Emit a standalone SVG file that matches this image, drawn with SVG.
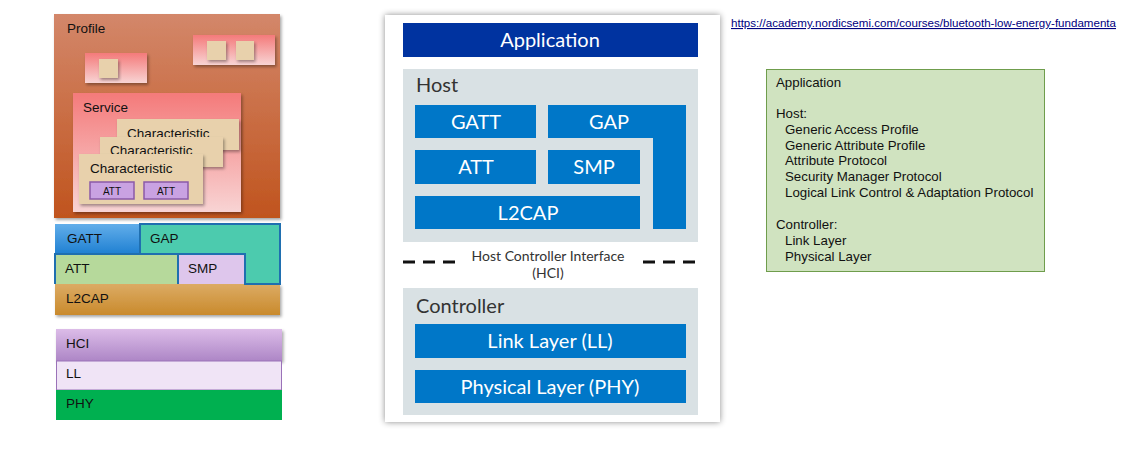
<svg xmlns="http://www.w3.org/2000/svg" width="1121" height="451" viewBox="0 0 1121 451">
<defs>
<linearGradient id="gProfile" x1="0" y1="0" x2="0" y2="1"><stop offset="0" stop-color="#d3876a"/><stop offset="1" stop-color="#c0541e"/></linearGradient>
<linearGradient id="gPink" x1="0" y1="0" x2="0" y2="1"><stop offset="0" stop-color="#f47a7a"/><stop offset="1" stop-color="#f8d4d4"/></linearGradient>
<linearGradient id="gGatt" x1="0" y1="0" x2="0" y2="1"><stop offset="0" stop-color="#62aeea"/><stop offset="1" stop-color="#1f80d2"/></linearGradient>
<linearGradient id="gL2" x1="0" y1="0" x2="0" y2="1"><stop offset="0" stop-color="#dcab64"/><stop offset="1" stop-color="#c98a2c"/></linearGradient>
<linearGradient id="gHci" x1="0" y1="0" x2="0" y2="1"><stop offset="0" stop-color="#dcbce8"/><stop offset="1" stop-color="#ad86c6"/></linearGradient>
<filter id="sh" x="-20%" y="-20%" width="140%" height="150%"><feDropShadow dx="1.5" dy="2" stdDeviation="1.5" flood-color="#000" flood-opacity="0.35"/></filter>
<filter id="card" x="-10%" y="-10%" width="120%" height="120%"><feDropShadow dx="0" dy="0" stdDeviation="3" flood-color="#000" flood-opacity="0.45"/></filter>
<style>
.l{font-family:"Liberation Sans",Arial,sans-serif;font-size:13.5px;fill:#111}
.ls{font-family:"Liberation Sans",Arial,sans-serif;font-size:10px;fill:#111}
.m{font-family:Lato,"Liberation Sans",sans-serif;font-size:20px;fill:#fff;text-anchor:middle}
.mh{font-family:Lato,"Liberation Sans",sans-serif;font-size:20px;fill:#333}
.hci{font-family:Lato,"Liberation Sans",sans-serif;font-size:14px;fill:#333;text-anchor:middle}
.blu{fill:#0077c8}
.grey{fill:#d9e1e4}
.tan{fill:#e8d1ac}
.r{font-family:"Liberation Sans",Arial,sans-serif;font-size:13.3px;fill:#111}
.dash{stroke:#111;stroke-width:3;stroke-dasharray:12 8}
</style>
</defs>
<rect width="1121" height="451" fill="#fff"/>

<g id="profile">
<rect x="54" y="14" width="226" height="204" fill="url(#gProfile)" filter="url(#sh)"/>
<text class="l" x="67" y="33">Profile</text>
<rect x="85" y="53" width="62" height="30" fill="url(#gPink)" filter="url(#sh)"/>
<rect x="99" y="59" width="19" height="19" class="tan" filter="url(#sh)"/>
<rect x="193" y="35" width="82" height="30" fill="url(#gPink)" filter="url(#sh)"/>
<rect x="207" y="41" width="19" height="19" class="tan" filter="url(#sh)"/>
<rect x="236" y="41" width="18" height="19" class="tan" filter="url(#sh)"/>
</g>
<g id="service">
<rect x="73" y="93" width="168" height="119" fill="url(#gPink)" filter="url(#sh)"/>
<text class="l" x="83" y="112">Service</text>
</g>
<g id="char3">
<rect x="117" y="119" width="122" height="31" class="tan" filter="url(#sh)"/>
<text class="l" x="127" y="138">Characteristic</text>
</g>
<g id="char2">
<rect x="100" y="137" width="123" height="30" class="tan" filter="url(#sh)"/>
<text class="l" x="110" y="155">Characteristic</text>
</g>
<g id="char1">
<rect x="79" y="154" width="124" height="50" class="tan" filter="url(#sh)"/>
<text class="l" x="90" y="173">Characteristic</text>
<rect x="90" y="182" width="44" height="17" fill="#c9a2e2" stroke="#8a5aa8" stroke-width="1.5"/>
<text class="ls" x="112" y="195" text-anchor="middle">ATT</text>
<rect x="144" y="182" width="44" height="17" fill="#c9a2e2" stroke="#8a5aa8" stroke-width="1.5"/>
<text class="ls" x="166" y="195" text-anchor="middle">ATT</text>
</g>

<g id="l2cap-left">
<rect x="55" y="284" width="225" height="31" fill="url(#gL2)" filter="url(#sh)"/>
<text class="l" x="66" y="303">L2CAP</text>
</g>
<g id="gatt-left">
<rect x="55" y="224" width="85" height="30" fill="url(#gGatt)"/>
<text class="l" x="67" y="243">GATT</text>
</g>
<g id="gap-left">
<path d="M140 224 H280 V284 H245 V254 H140 Z" fill="#4ccbae" stroke="#1f6fb0" stroke-width="2"/>
<text class="l" x="150" y="243">GAP</text>
</g>
<g id="att-left">
<path d="M55 284 V254 H178 V284" fill="#b6d99b" stroke="#1f6fb0" stroke-width="2"/>
<text class="l" x="65" y="273">ATT</text>
</g>
<g id="smp-left">
<rect x="178" y="255" width="66" height="29" fill="#dec6ec"/>
<line x1="178" y1="254" x2="178" y2="284" stroke="#1f6fb0" stroke-width="2"/>
<text class="l" x="188" y="273">SMP</text>
</g>

<g id="hci-left">
<rect x="56" y="329" width="226" height="32" fill="url(#gHci)" filter="url(#sh)"/>
<text class="l" x="66" y="348">HCI</text>
</g>
<g id="ll-left">
<rect x="56.5" y="361" width="225" height="29" fill="#f0e4f6" stroke="#9a72b8" stroke-width="1"/>
<text class="l" x="66" y="378">LL</text>
</g>
<g id="phy-left">
<rect x="56" y="390" width="226" height="30" fill="#00b050"/>
<text class="l" x="66" y="408">PHY</text>
</g>

<rect x="385" y="15" width="335" height="407" fill="#fff" filter="url(#card)"/>
<g id="application">
<rect x="403" y="23" width="295" height="34" fill="#0033a0"/>
<text class="m" x="550" y="47">Application</text>
</g>
<g id="host">
<rect x="403" y="69" width="295" height="173" class="grey"/>
<text class="mh" x="416" y="92">Host</text>
</g>
<g id="gatt">
<rect x="415" y="105" width="121" height="33" class="blu"/>
<text class="m" x="476" y="129">GATT</text>
</g>
<g id="gap">
<path d="M548 105 H686 V229 H653 V138 H548 Z" class="blu"/>
<text class="m" x="609" y="129">GAP</text>
</g>
<g id="att">
<rect x="415" y="150" width="121" height="34" class="blu"/>
<text class="m" x="476" y="174">ATT</text>
</g>
<g id="smp">
<rect x="548" y="150" width="92" height="34" class="blu"/>
<text class="m" x="594" y="174">SMP</text>
</g>
<g id="l2cap">
<rect x="415" y="196" width="225" height="33" class="blu"/>
<text class="m" x="528" y="220">L2CAP</text>
</g>
<g id="hci">
<text class="hci" x="548" y="261">Host Controller Interface</text>
<text class="hci" x="548" y="278">(HCI)</text>
</g>
<g id="connectors">
<line class="dash" x1="403" y1="262" x2="455" y2="262"/>
<line class="dash" x1="643" y1="262" x2="695" y2="262"/>
</g>
<g id="controller">
<rect x="403" y="288" width="295" height="127" class="grey"/>
<text class="mh" x="416" y="313">Controller</text>
</g>
<g id="ll">
<rect x="415" y="324" width="271" height="34" class="blu"/>
<text class="m" x="550" y="348">Link Layer (LL)</text>
</g>
<g id="phy">
<rect x="415" y="370" width="271" height="33" class="blu"/>
<text class="m" x="550" y="394">Physical Layer (PHY)</text>
</g>

<g id="url">
<text x="731" y="27" font-family="'Liberation Sans',Arial,sans-serif" font-size="11" fill="#000080" text-decoration="underline" textLength="385" lengthAdjust="spacingAndGlyphs">https://academy.nordicsemi.com/courses/bluetooth-low-energy-fundamenta</text>
</g>

<g id="legend">
<rect x="766.5" y="69.5" width="278" height="202" fill="#d0e3c0" stroke="#6f9d4c" stroke-width="1"/>
<text class="r" x="776" y="87">Application</text>
<text class="r" x="776" y="118">Host:</text>
<text class="r" x="785" y="134">Generic Access Profile</text>
<text class="r" x="785" y="150">Generic Attribute Profile</text>
<text class="r" x="785" y="165">Attribute Protocol</text>
<text class="r" x="785" y="181">Security Manager Protocol</text>
<text class="r" x="785" y="197">Logical Link Control &amp; Adaptation Protocol</text>
<text class="r" x="776" y="229">Controller:</text>
<text class="r" x="785" y="245">Link Layer</text>
<text class="r" x="785" y="261">Physical Layer</text>
</g>
</svg>
